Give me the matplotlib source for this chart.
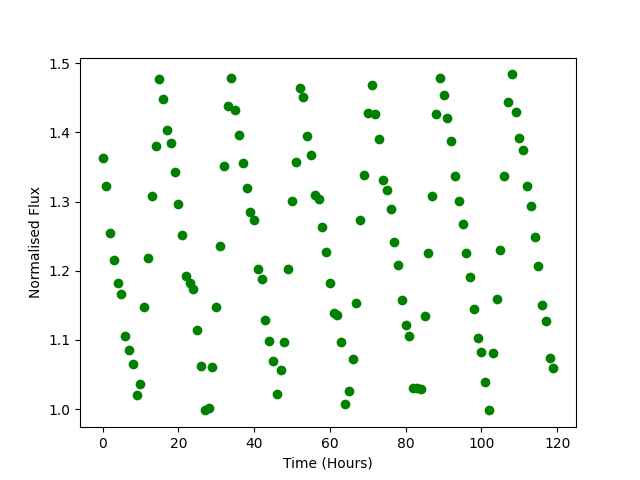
import matplotlib
matplotlib.use("Agg")
import matplotlib.pyplot as plt
import numpy as np

# hourly readings, 0 to 119 hours
time = np.arange(120)

flux = [
    1.363, 1.322, 1.255, 1.215, 1.182, 1.166, 1.105, 1.086, 1.065, 1.020,
    1.036, 1.148, 1.218, 1.308, 1.381, 1.478, 1.449, 1.404, 1.385, 1.343,
    1.297, 1.251, 1.192, 1.182, 1.173, 1.114, 1.062, 0.999, 1.002, 1.061,
    1.147, 1.236, 1.352, 1.439, 1.479, 1.433, 1.397, 1.356, 1.319, 1.285,
    1.273, 1.203, 1.188, 1.129, 1.098, 1.069, 1.021, 1.056, 1.097, 1.202,
    1.301, 1.357, 1.465, 1.452, 1.395, 1.368, 1.310, 1.304, 1.263, 1.227,
    1.182, 1.139, 1.136, 1.097, 1.007, 1.026, 1.073, 1.153, 1.273, 1.339,
    1.428, 1.469, 1.427, 1.391, 1.331, 1.317, 1.289, 1.242, 1.208, 1.157,
    1.121, 1.105, 1.030, 1.031, 1.029, 1.134, 1.226, 1.308, 1.426, 1.479,
    1.454, 1.421, 1.387, 1.337, 1.301, 1.268, 1.226, 1.191, 1.145, 1.102,
    1.082, 1.039, 0.998, 1.081, 1.159, 1.230, 1.337, 1.444, 1.484, 1.430,
    1.392, 1.375, 1.323, 1.294, 1.249, 1.207, 1.150, 1.127, 1.074, 1.059,
]

plt.figure(figsize=(6.4, 4.8), dpi=100)
plt.plot(time, flux, "o", color="green")
plt.xlabel("Time (Hours)")
plt.ylabel("Normalised Flux")
plt.savefig("out.png")
